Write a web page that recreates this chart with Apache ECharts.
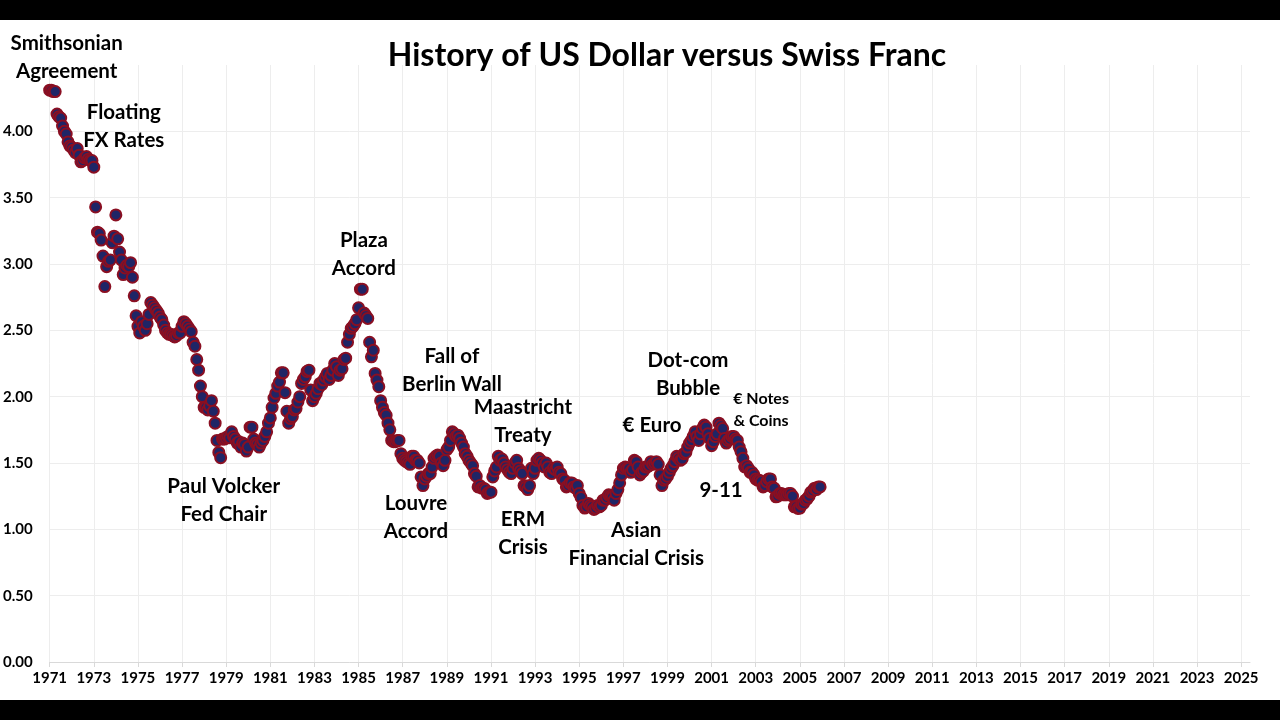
<!DOCTYPE html>
<html>
<head>
<meta charset="utf-8">
<title>History of US Dollar versus Swiss Franc</title>
<script src="https://cdn.jsdelivr.net/npm/echarts@6/dist/echarts.min.js"></script>
<style>
  html, body { margin: 0; padding: 0; background: #000; }
  #chart { position: absolute; left: 0; top: 20px; width: 1280px; height: 680px; background: #fff; }
</style>
</head>
<body>
<div id="chart"></div>
<script>
// monthly USD/CHF, Jan 1971 .. Dec 2005
var startYear = 1971;
var usdChf = [
  4.31, 4.31, 4.30, 4.30, 4.13, 4.11, 4.10, 4.04, 4.00, 3.98, 3.92, 3.89, // 1971
  3.88, 3.86, 3.84, 3.87, 3.82, 3.77, 3.78, 3.80, 3.81, 3.79, 3.78, 3.78, // 1972
  3.73, 3.43, 3.24, 3.23, 3.18, 3.06, 2.83, 2.98, 3.02, 3.03, 3.16, 3.21, // 1973
  3.37, 3.19, 3.09, 3.03, 2.92, 2.97, 2.99, 2.98, 3.01, 2.90, 2.76, 2.61, // 1974
  2.53, 2.48, 2.565, 2.53, 2.50, 2.55, 2.62, 2.71, 2.69, 2.67, 2.65, 2.63, // 1975
  2.60, 2.58, 2.54, 2.50, 2.48, 2.47, 2.47, 2.46, 2.45, 2.46, 2.48, 2.48, // 1976
  2.53, 2.565, 2.55, 2.53, 2.51, 2.49, 2.41, 2.38, 2.28, 2.20, 2.08, 2.00, // 1977
  1.92, 1.92, 1.90, 1.93, 1.97, 1.89, 1.80, 1.67, 1.58, 1.54, 1.68, 1.68, // 1978
  1.69, 1.70, 1.69, 1.735, 1.70, 1.68, 1.65, 1.66, 1.62, 1.65, 1.64, 1.59, // 1979
  1.62, 1.77, 1.77, 1.68, 1.65, 1.64, 1.62, 1.65, 1.67, 1.70, 1.735, 1.80, // 1980
  1.84, 1.92, 1.99, 2.025, 2.08, 2.11, 2.18, 2.18, 2.03, 1.89, 1.80, 1.835, // 1981
  1.85, 1.90, 1.91, 1.96, 2.00, 2.10, 2.13, 2.15, 2.19, 2.20, 2.05, 1.97, // 1982
  2.00, 2.025, 2.06, 2.10, 2.09, 2.125, 2.15, 2.175, 2.13, 2.16, 2.20, 2.25, // 1983
  2.225, 2.16, 2.20, 2.21, 2.28, 2.29, 2.41, 2.47, 2.515, 2.53, 2.55, 2.58, // 1984
  2.67, 2.81, 2.81, 2.63, 2.61, 2.59, 2.41, 2.30, 2.35, 2.175, 2.125, 2.075, // 1985
  1.97, 1.92, 1.88, 1.86, 1.80, 1.75, 1.67, 1.66, 1.66, 1.67, 1.67, 1.57, // 1986
  1.535, 1.52, 1.51, 1.50, 1.49, 1.55, 1.55, 1.52, 1.52, 1.50, 1.395, 1.33, // 1987
  1.38, 1.40, 1.42, 1.42, 1.47, 1.535, 1.55, 1.56, 1.55, 1.50, 1.48, 1.52, // 1988
  1.60, 1.62, 1.67, 1.735, 1.72, 1.70, 1.71, 1.685, 1.65, 1.62, 1.57, 1.55, // 1989
  1.52, 1.50, 1.48, 1.42, 1.40, 1.32, 1.33, 1.31, 1.31, 1.30, 1.27, 1.28, // 1990
  1.28, 1.395, 1.44, 1.47, 1.55, 1.52, 1.53, 1.50, 1.47, 1.45, 1.43, 1.42, // 1991
  1.46, 1.50, 1.52, 1.46, 1.44, 1.42, 1.33, 1.32, 1.30, 1.33, 1.46, 1.42, // 1992
  1.46, 1.52, 1.535, 1.52, 1.50, 1.47, 1.50, 1.47, 1.43, 1.42, 1.46, 1.45, // 1993
  1.47, 1.43, 1.42, 1.38, 1.37, 1.32, 1.33, 1.35, 1.35, 1.32, 1.31, 1.33, // 1994
  1.27, 1.24, 1.18, 1.16, 1.17, 1.195, 1.18, 1.17, 1.15, 1.16, 1.18, 1.17, // 1995
  1.18, 1.22, 1.22, 1.24, 1.26, 1.25, 1.245, 1.22, 1.27, 1.30, 1.35, 1.41, // 1996
  1.46, 1.47, 1.46, 1.46, 1.43, 1.45, 1.52, 1.51, 1.47, 1.41, 1.43, 1.44, // 1997
  1.47, 1.47, 1.48, 1.51, 1.49, 1.50, 1.51, 1.49, 1.41, 1.33, 1.37, 1.38, // 1998
  1.40, 1.43, 1.46, 1.48, 1.51, 1.55, 1.535, 1.52, 1.53, 1.57, 1.58, 1.62, // 1999
  1.65, 1.67, 1.70, 1.735, 1.70, 1.67, 1.72, 1.76, 1.786, 1.77, 1.72, 1.685, // 2000
  1.63, 1.66, 1.70, 1.72, 1.80, 1.78, 1.76, 1.685, 1.65, 1.67, 1.68, 1.70, // 2001
  1.70, 1.68, 1.67, 1.62, 1.585, 1.535, 1.47, 1.48, 1.46, 1.43, 1.43, 1.41, // 2002
  1.38, 1.37, 1.37, 1.36, 1.32, 1.33, 1.36, 1.38, 1.38, 1.32, 1.31, 1.245, // 2003
  1.25, 1.27, 1.27, 1.26, 1.26, 1.26, 1.27, 1.27, 1.25, 1.17, 1.17, 1.157, // 2004
  1.16, 1.19, 1.195, 1.22, 1.23, 1.25, 1.28, 1.29, 1.31, 1.30, 1.32, 1.32  // 2005
];

// x axis labels (every other year)
var tickYears = [];
for (var y = 1971; y <= 2025; y += 2) tickYears.push(y);

// event annotations, placed in data space (year, rate)
var annoText = [
  'Smithsonian\nAgreement', 'Floating\nFX Rates', 'Plaza\nAccord', 'Paul Volcker\nFed Chair',
  'Fall of\nBerlin Wall', 'Louvre\nAccord', 'Maastricht\nTreaty', 'ERM\nCrisis',
  '€ Euro', 'Asian\nFinancial Crisis', 'Dot-com\nBubble', '€ Notes\n& Coins', '9-11'
];
var annoYear = [1971.77, 1974.36, 1985.24, 1978.89, 1989.23, 1987.60, 1992.45, 1992.45,
  1998.30, 1997.58, 1999.93, 2003.24, 2001.43];
var annoRate = [4.555, 4.038, 3.072, 1.216, 2.197, 1.088, 1.812, 0.967,
  1.786, 0.884, 2.167, 1.899, 1.295];
var annoSmall = [false, false, false, false, false, false, false, false,
  false, false, false, true, false];

var points = usdChf.map(function (v, i) {
  return [startYear + i / 12, v];
});

var font = 'Lato, "Open Sans", sans-serif';
var myChart = echarts.init(document.getElementById('chart'));

var option = {
  backgroundColor: '#fff',
  animation: false,
  title: {
    text: 'History of US Dollar versus Swiss Franc',
    left: 662,
    top: 15,
    textAlign: 'center',
    textStyle: { fontFamily: font, fontWeight: 'bold', fontSize: 32, color: '#000' }
  },
  grid: { left: 49, right: 30, top: 45, bottom: 38 },
  xAxis: {
    type: 'value',
    min: 1971,
    max: 2025.4,
    interval: 1,
    axisLine: { lineStyle: { color: '#d9d9d9', width: 1 } },
    axisTick: { customValues: tickYears, length: 5, lineStyle: { color: '#d9d9d9' } },
    axisLabel: {
      customValues: tickYears,
      formatter: function (v) { return String(v); },
      fontFamily: font, fontWeight: 'bold', fontSize: 15, color: '#000', margin: 9
    },
    splitLine: { show: true, lineStyle: { color: '#ededed', width: 1 } }
  },
  yAxis: {
    type: 'value',
    min: 0,
    max: 4.5,
    interval: 0.5,
    axisLine: { show: false },
    axisTick: { show: false },
    axisLabel: {
      showMaxLabel: false,
      formatter: function (v) { return v.toFixed(2); },
      fontFamily: font, fontWeight: 'bold', fontSize: 15, color: '#000', margin: 17
    },
    splitLine: { show: true, showMaxLine: false, lineStyle: { color: '#ededed', width: 1 } }
  },
  series: [{
    name: 'USD/CHF',
    type: 'scatter',
    data: points,
    symbolSize: 11,
    itemStyle: { color: '#1f2566', borderColor: '#8a0f22', borderWidth: 2, opacity: 1 }
  }]
};
myChart.setOption(option);

// annotation text placed through the chart's own scales
var graphics = annoText.map(function (t, i) {
  var p = myChart.convertToPixel({ gridIndex: 0 }, [annoYear[i], annoRate[i]]);
  return {
    type: 'text',
    x: p[0],
    y: p[1],
    style: {
      text: t,
      fill: '#000',
      font: 'bold ' + (annoSmall[i] ? 16 : 20.5) + 'px ' + font,
      lineHeight: annoSmall[i] ? 22 : 28,
      align: 'center',
      verticalAlign: 'middle'
    }
  };
});
myChart.setOption({ graphic: graphics });
</script>
</body>
</html>
